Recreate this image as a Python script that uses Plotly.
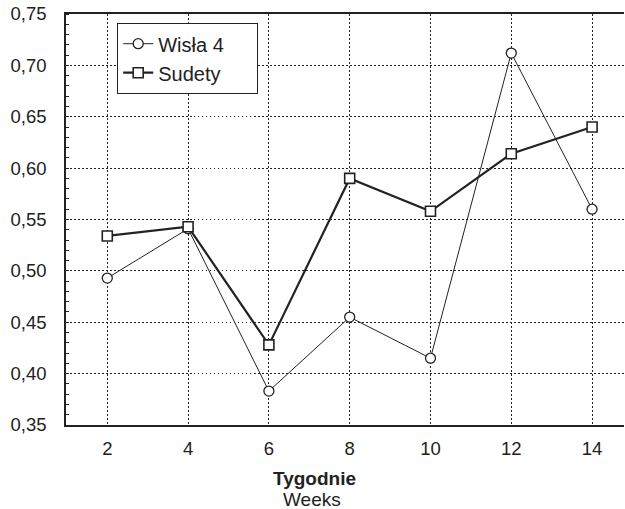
import plotly.graph_objects as go

weeks = [2, 4, 6, 8, 10, 12, 14]
wisla4 = [0.493, 0.541, 0.383, 0.455, 0.415, 0.712, 0.560]
sudety = [0.534, 0.543, 0.428, 0.590, 0.558, 0.614, 0.640]
y_ticks = [0.35, 0.40, 0.45, 0.50, 0.55, 0.60, 0.65, 0.70, 0.75]
x_ticks = [2, 4, 6, 8, 10, 12, 14]

FONT = "Liberation Sans, Arial, sans-serif"
INK = "#222222"
PAD = "\u00a0" * 5

fig = go.Figure()
fig.add_trace(go.Scatter(
    x=weeks, y=wisla4, name="Wisła 4" + PAD, mode="lines+markers",
    line=dict(color=INK, width=1),
    marker=dict(symbol="circle", size=10, color="white", line=dict(color=INK, width=1.3)),
))
fig.add_trace(go.Scatter(
    x=weeks, y=sudety, name="Sudety" + PAD, mode="lines+markers",
    line=dict(color=INK, width=2.2),
    marker=dict(symbol="square", size=10, color="white", line=dict(color=INK, width=1.6)),
))

fig.update_layout(
    width=625, height=509,
    margin=dict(l=66, r=1, t=14, b=84, autoexpand=False),
    paper_bgcolor="white", plot_bgcolor="white",
    separators=", ",
    font=dict(family=FONT, size=18.5, color=INK),
    showlegend=True,
    legend=dict(
        x=(117 - 66) / 558, y=(425 - 23) / 411, xanchor="left", yanchor="top",
        bgcolor="white", bordercolor=INK, borderwidth=1.2,
        font=dict(family=FONT, size=20, color=INK),
        itemwidth=30, tracegroupgap=0,
    ),
    xaxis=dict(
        range=[0.978, 14.79], tickmode="array", tickvals=x_ticks,
        showgrid=True, gridcolor=INK, griddash="1.5px,2.5px", gridwidth=1,
        showline=True, linecolor=INK, linewidth=1.5, mirror=True,
        ticks="", zeroline=False, ticklabelstandoff=6, automargin=False,
        tickfont=dict(family=FONT, size=18.5, color=INK),
    ),
    yaxis=dict(
        range=[0.35, 0.75], tickmode="array", tickvals=y_ticks,
        tickformat=".2f",
        showgrid=True, gridcolor=INK, griddash="1.5px,2.5px", gridwidth=1,
        showline=True, linecolor=INK, linewidth=1.5, mirror=False,
        ticks="", zeroline=False, ticklabelstandoff=14, automargin=False,
        tickfont=dict(family=FONT, size=18.5, color=INK),
        minor=dict(dtick=0.01, ticks="inside", ticklen=3, tickcolor=INK, tickwidth=1, showgrid=False),
    ),
)

fig.add_annotation(text="<b>Tygodnie</b>", xref="paper", yref="paper", x=(314 - 66) / 558, y=-(478 - 425) / 411,
                   xanchor="center", yanchor="middle", showarrow=False,
                   font=dict(family=FONT, size=19, color=INK))
fig.add_annotation(text="Weeks", xref="paper", yref="paper", x=(311.5 - 66) / 558, y=-(499 - 425) / 411,
                   xanchor="center", yanchor="middle", showarrow=False,
                   font=dict(family=FONT, size=19, color=INK))

fig.write_html("out.html", config={"displayModeBar": False},
               post_script="document.body.style.margin='0';document.body.style.padding='0';")
